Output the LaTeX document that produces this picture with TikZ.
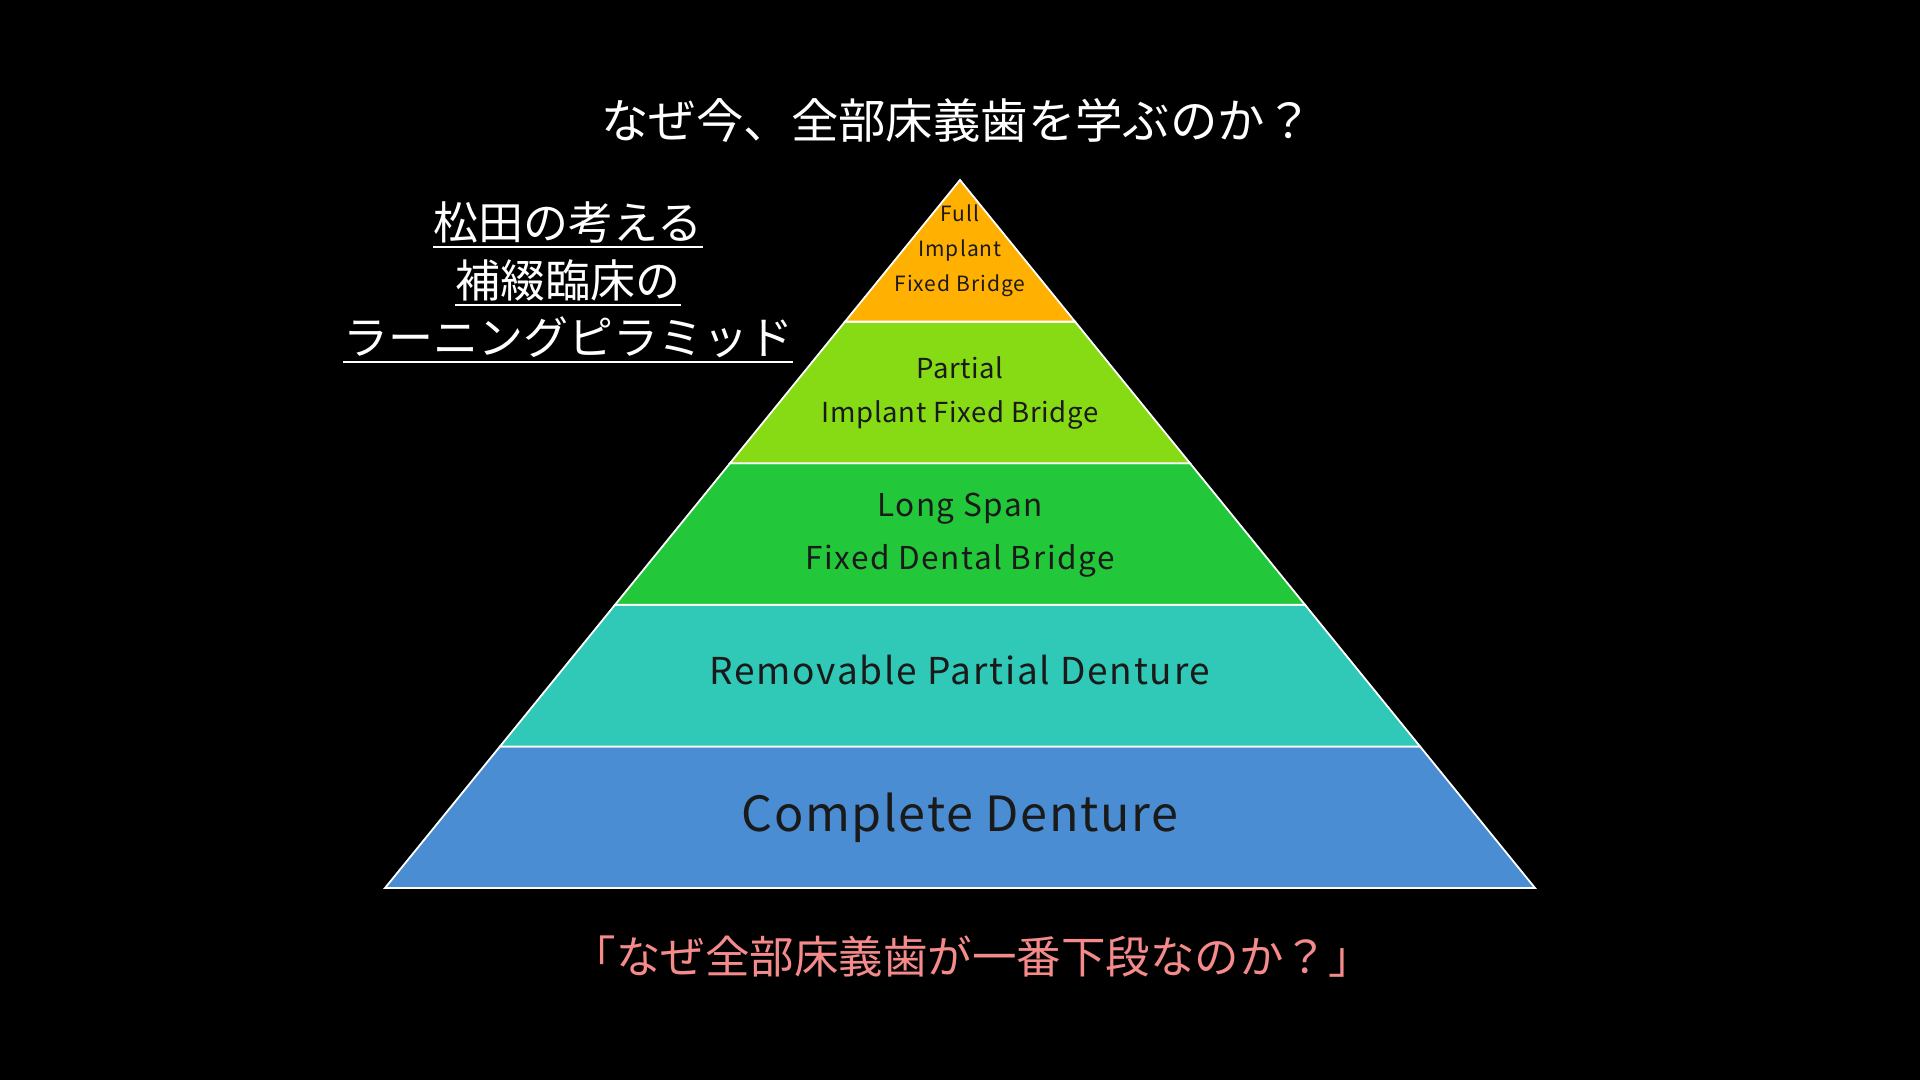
\documentclass[tikz,border=0pt]{standalone}
\usepackage{fontspec}
\setmainfont{Noto Sans CJK JP}
\definecolor{cOrange}{HTML}{FFB000}
\definecolor{cLime}{HTML}{86DB14}
\definecolor{cGreen}{HTML}{22C83A}
\definecolor{cTeal}{HTML}{30C8B6}
\definecolor{cBlue}{HTML}{4A8DD2}
\definecolor{cPink}{HTML}{F48A8A}
\definecolor{cInk}{HTML}{1A1A1A}
\begin{document}
\begin{tikzpicture}[x=1pt,y=-1pt,
  band/.style={draw=white,line width=1.8pt,line join=miter},
  lbl/.style={text=cInk,align=center,inner sep=0pt},
  ttl/.style={text=white,inner sep=0pt},
  ul/.style={draw=white,line width=2pt}]
\fill[black] (0,0) rectangle (1920,1080);
\useasboundingbox (0,0) rectangle (1920,1080);
% pyramid bands
\path[band,fill=cBlue]   (385,888) -- (1535,888) -- (1420,746.4) -- (500,746.4) -- cycle;
\path[band,fill=cTeal]   (500,746.4) -- (1420,746.4) -- (1305,604.8) -- (615,604.8) -- cycle;
\path[band,fill=cGreen]  (615,604.8) -- (1305,604.8) -- (1190,463.2) -- (730,463.2) -- cycle;
\path[band,fill=cLime]   (730,463.2) -- (1190,463.2) -- (1075,321.6) -- (845,321.6) -- cycle;
\path[band,fill=cOrange] (845,321.6) -- (1075,321.6) -- (960,180) -- cycle;
% band labels
\node[lbl,font=\fontsize{21}{35}\selectfont\addfontfeatures{LetterSpace=5}] (full) at (960,251) {Full\\Implant\\Fixed Bridge};
\node[lbl,font=\fontsize{27.5}{44}\selectfont\addfontfeatures{LetterSpace=2.5}] (partial) at (960,393) {Partial\\Implant Fixed Bridge};
\node[lbl,font=\fontsize{31.5}{53}\selectfont\addfontfeatures{LetterSpace=5}] (long) at (960,535) {Long Span\\Fixed Dental Bridge};
\node[lbl,font=\fontsize{37}{42}\selectfont\addfontfeatures{LetterSpace=4.8}] (rpd) at (960,670) {Removable Partial Denture};
\node[lbl,font=\fontsize{48.5}{55}\selectfont\addfontfeatures{LetterSpace=3.5}] (cd) at (960,818) {Complete Denture};
% title
\node[ttl,font=\fontsize{47.4}{56}\selectfont] (title) at (957,120) {なぜ今、全部床義歯を学ぶのか？};
% left heading
\node[ttl,font=\fontsize{45}{54}\selectfont] (l1) at (568,222) {松田の考える};
\node[ttl,font=\fontsize{45}{54}\selectfont] (l2) at (568,280) {補綴臨床の};
\node[ttl,font=\fontsize{45}{54}\selectfont] (l3) at (568,337) {ラーニングピラミッド};
\draw[ul] ([yshift=-4]l1.south west) -- ([yshift=-4]l1.south east);
\draw[ul] ([yshift=-4]l2.south west) -- ([yshift=-4]l2.south east);
\draw[ul] ([yshift=-4]l3.south west) -- ([yshift=-4]l3.south east);
% bottom question
\node[inner sep=0pt,text=cPink,font=\fontsize{44.5}{52}\selectfont] (q) at (972,957) {「なぜ全部床義歯が一番下段なのか？」};
\end{tikzpicture}
\end{document}
